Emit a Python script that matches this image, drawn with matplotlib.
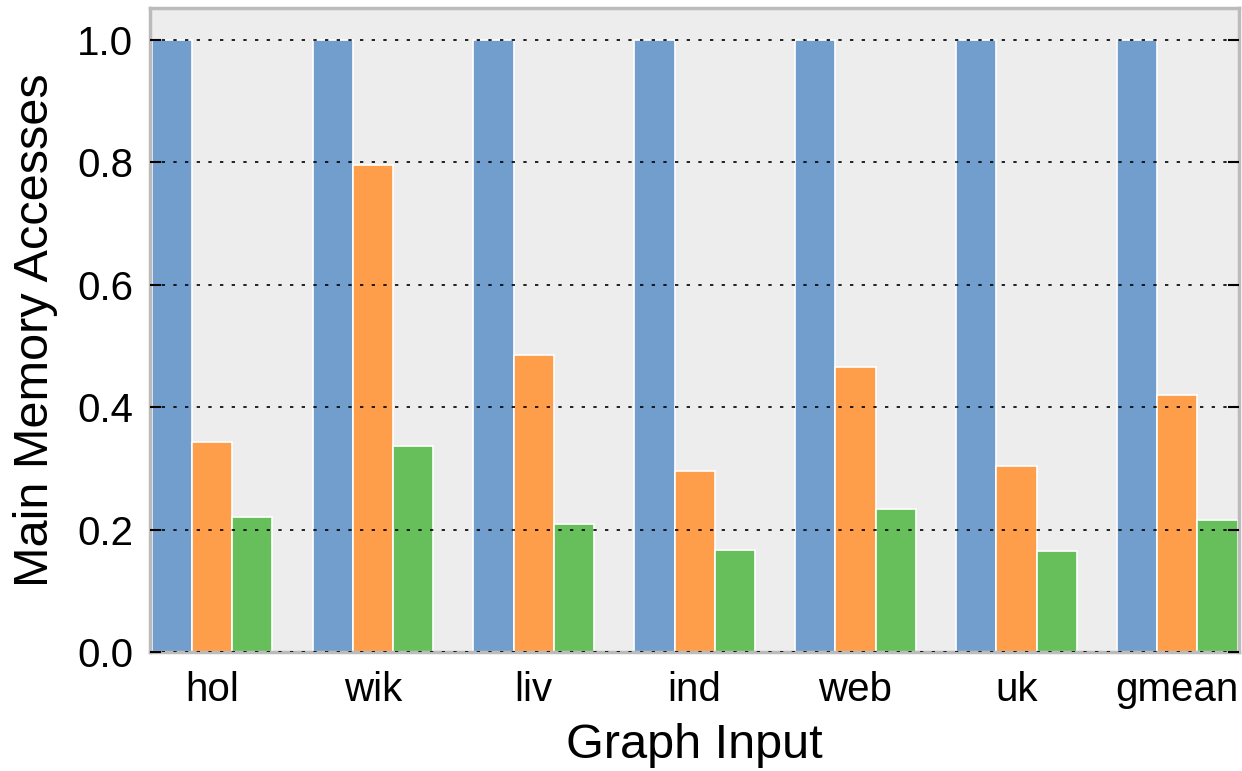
import matplotlib
matplotlib.use("Agg")
import matplotlib.pyplot as plt
import numpy as np

plt.rcParams['font.family'] = ['Liberation Sans', 'DejaVu Sans']

categories = ["hol", "wik", "liv", "ind", "web", "uk", "gmean"]
series_blue = [1.0, 1.0, 1.0, 1.0, 1.0, 1.0, 1.0]
series_orange = [0.343, 0.796, 0.485, 0.296, 0.466, 0.304, 0.420]
series_green = [0.221, 0.337, 0.209, 0.167, 0.234, 0.165, 0.216]
yticks = [0.0, 0.2, 0.4, 0.6, 0.8, 1.0]

colors = ["#729ECE", "#FF9E4A", "#67BF5C"]

fig = plt.figure(figsize=(12.42, 7.71), dpi=100)
ax = fig.add_axes([0.1208, 0.1543, 0.877, 0.8353])
ax.set_facecolor("#EDEDED")

x = np.arange(len(categories))
w = 0.25
for i, (vals, c) in enumerate(zip([series_blue, series_orange, series_green], colors)):
    ax.bar(x + (i - 1) * w, vals, width=w, color=c, edgecolor="white", linewidth=1.2, zorder=2)

ax.set_xlim(-0.385, len(categories) - 1 + 0.385)
ax.set_ylim(0, 1.052)
ax.set_yticks(yticks)
ax.set_yticklabels([f"{t:.1f}" for t in yticks])
ax.set_xticks(x)
ax.set_xticklabels(categories)
ax.yaxis.grid(True, linestyle=(0, (2, 5)), color="black", linewidth=1.2, zorder=3)
ax.set_axisbelow(False)
ax.tick_params(axis='x', length=0, labelsize=29, pad=14)
ax.tick_params(axis='y', direction='in', length=8, width=1.5, labelsize=29, right=True, pad=12)
for s in ax.spines.values():
    s.set_color("#BBBBBB")
    s.set_linewidth(2.5)

ax.set_xlabel("Graph Input", fontsize=35, labelpad=10)
ax.set_ylabel("Main Memory Accesses", fontsize=35, labelpad=14)

fig.savefig("out.png", dpi=100)
